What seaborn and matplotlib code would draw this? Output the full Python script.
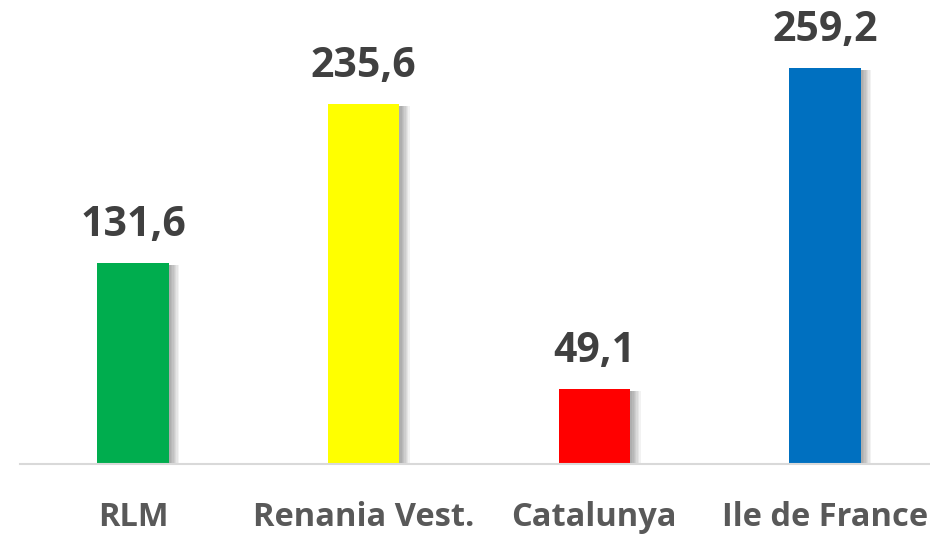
import matplotlib
matplotlib.use("Agg")
import matplotlib.pyplot as plt
import matplotlib.patheffects as pe
import seaborn as sns
import pandas as pd

regions = ["RLM", "Renania Vest.", "Catalunya", "Ile de France"]
values = [131.6, 235.6, 49.1, 259.2]
value_labels = ["131,6", "235,6", "49,1", "259,2"]
colors = ["#00AD4E", "#FFFF00", "#FF0000", "#0070C0"]

sns.set_theme(style="white")
plt.rcParams["font.family"] = ["Open Sans", "DejaVu Sans"]

df = pd.DataFrame({"region": regions, "value": values})

fig = plt.figure(figsize=(9.3, 5.5), dpi=100)
ax = fig.add_axes([20 / 930, 86.5 / 550, 910 / 930, 458 / 550])

sns.barplot(data=df, x="region", y="value", hue="region", palette=colors,
            width=0.31, legend=False, ax=ax, saturation=1)

# soft drop shadow to the right of each bar
shadow = [pe.SimplePatchShadow(offset=(d, -1.5), shadow_rgbFace="black", alpha=0.05)
          for d in (1.5, 2.5, 3.5, 4.5, 5.5, 6.5, 7.5)]
for bar in ax.patches:
    bar.set_edgecolor("none")
    bar.set_path_effects(shadow + [pe.Normal()])

for i, (v, lab) in enumerate(zip(values, value_labels)):
    ax.annotate(lab, (i, v), xytext=(0, 12), textcoords="offset points",
                ha="center", va="bottom", fontsize=29.5, fontweight="bold",
                color="#404040")

ax.set_xlim(-0.49, 3.455)
ax.set_ylim(0, 300)
ax.set_xlabel("")
ax.set_ylabel("")
ax.set_yticks([])
for s in ("top", "right", "left"):
    ax.spines[s].set_visible(False)
ax.spines["bottom"].set_color("#D9D9D9")
ax.spines["bottom"].set_linewidth(1.5)
ax.tick_params(axis="x", length=0, pad=27, labelsize=23.5, labelcolor="#595959")
for t in ax.get_xticklabels():
    t.set_fontweight("bold")

fig.savefig("out.png", dpi=100)
